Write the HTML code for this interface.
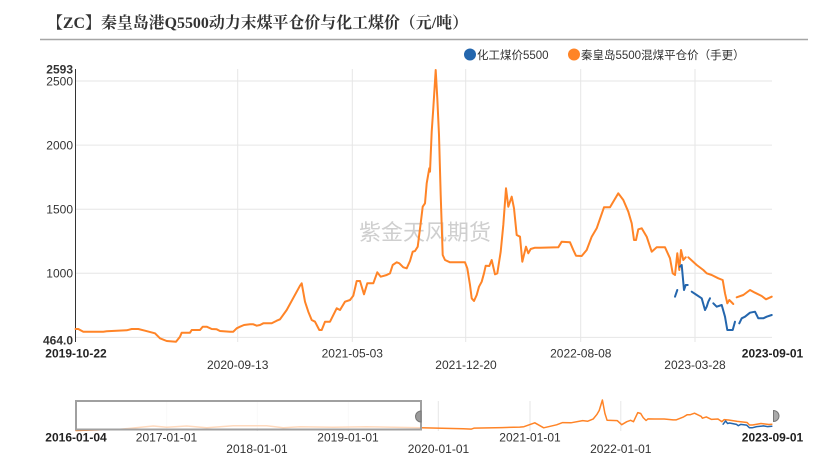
<!DOCTYPE html>
<html>
<head>
<meta charset="utf-8">
<style>
  html,body{margin:0;padding:0;background:#fff;}
  body{width:839px;height:461px;overflow:hidden;}
  svg{display:block;}
  .s{font-family:"Liberation Sans","Noto Sans CJK SC",sans-serif;}
</style>
</head>
<body>
<svg width="839" height="461" viewBox="0 0 839 461" xmlns="http://www.w3.org/2000/svg">
  <rect x="0" y="0" width="839" height="461" fill="#fff"/>

  <!-- Title -->
  <text x="47" y="28" font-family="'Liberation Serif','Noto Serif CJK SC',serif" font-weight="bold" font-size="16" fill="#333" textLength="421" lengthAdjust="spacingAndGlyphs">【ZC】秦皇岛港Q5500动力末煤平仓价与化工煤价（元/吨）</text>
  <line x1="40" y1="39.5" x2="808" y2="39.5" stroke="#a6a6a6" stroke-width="1.5"/>

  <!-- Legend -->
  <circle cx="470" cy="54.5" r="6" fill="#2466ad"/>
  <text class="s" x="477" y="59" font-size="11.5" fill="#333">化工煤价5500</text>
  <circle cx="574" cy="54.5" r="6" fill="#ff8427"/>
  <text class="s" x="581" y="59" font-size="11.5" fill="#333">秦皇岛5500混煤平仓价（手更）</text>

  <!-- Grid horizontal -->
  <g stroke="#e6e6e6" stroke-width="1">
    <line x1="76" y1="337.4" x2="772" y2="337.4"/>
    <line x1="76" y1="273.3" x2="772" y2="273.3"/>
    <line x1="76" y1="209.2" x2="772" y2="209.2"/>
    <line x1="76" y1="145.1" x2="772" y2="145.1"/>
    <line x1="76" y1="81" x2="772" y2="81"/>
    <!-- vertical -->
    <line x1="237.7" y1="69" x2="237.7" y2="342"/>
    <line x1="352.3" y1="69" x2="352.3" y2="342"/>
    <line x1="465.7" y1="69" x2="465.7" y2="342"/>
    <line x1="580.7" y1="69" x2="580.7" y2="342"/>
    <line x1="695" y1="69" x2="695" y2="342"/>
  </g>
  <line x1="75.5" y1="69" x2="75.5" y2="342" stroke="#333" stroke-width="1"/>

  <!-- Watermark -->
  <text class="s" x="425" y="240" font-size="22" fill="#cfcfcf" text-anchor="middle">紫金天风期货</text>

  <!-- Y labels -->
  <g class="s" font-size="12" fill="#333" text-anchor="end">
    <text x="73" y="73.5" font-weight="bold">2593</text>
    <text x="73" y="85.5">2500</text>
    <text x="73" y="149.5">2000</text>
    <text x="73" y="213.5">1500</text>
    <text x="73" y="277.7">1000</text>
    <text x="73" y="344.5" font-weight="bold">464.0</text>
  </g>

  <!-- X labels -->
  <g class="s" font-size="12" fill="#333" text-anchor="middle">
    <text x="76" y="357.5" font-weight="bold" fill="#222">2019-10-22</text>
    <text x="237.7" y="369">2020-09-13</text>
    <text x="352.3" y="357.5">2021-05-03</text>
    <text x="466" y="369">2021-12-20</text>
    <text x="580.8" y="357.5">2022-08-08</text>
    <text x="695" y="369">2023-03-28</text>
    <text x="772.5" y="357.5" font-weight="bold" fill="#222">2023-09-01</text>
  </g>

  <!-- Main orange series -->
  <g fill="none" stroke="#ff8427" stroke-width="2" stroke-linejoin="round" stroke-linecap="round">
    <polyline points="75.5,329 78.3,329 83.3,331.7 103.3,331.7 106.7,331.3 111.7,331 126.7,330.3 131.7,329 138.3,329 145,330.7 155,333.3 160,338.3 166.7,341 176,341.7 180,336.7 181.7,332.7 190,332.7 191.7,330 200,330 202.7,326.7 206.7,326.7 211.7,329 216.7,329.3 220,331 230,331.7 233.3,331.7 236.7,328.3 240,326.7 244,325 250,324.3 253.3,324.3 256.7,325.7 260,325 263.3,323.3 271.7,323.3 276.7,320.7 280,319.3 286.7,310 300,285.7 301.7,283.3 305,301.7 308.3,311.7 311.7,320 315,321.7 319.3,330 321.7,330 325,321.7 330,321.7 336.7,308.3 340,310 345,301.7 350,300 353.3,295.7 356.7,281 360,281 364,294.3 367.3,283.3 373.3,283.3 377.3,272.3 380.7,276.7 386.7,275 390,273.3 392.7,265 396.7,262.3 399.3,263.3 403.3,267.3 406.7,268.3 410,261 412.7,251.7 415,251 417.7,246.7 420.7,223.3 422.7,206.7 425,203.3 426.7,183.3 429.3,168.3 430,171.7 431.7,131.7 433.3,108.3 435.7,70 437.3,98.3 439,135 440.7,195 442.7,255 445,260 450,262.3 465,262.3 467.3,268.3 470,285 471.7,298.3 474,301 476.7,295 479,286.7 481.7,281.7 484,273.3 485.7,265.7 489.3,266 491.7,260 495,274.3 497.3,273.3 500.7,251.7 503.3,225 506,188.3 508.3,206.7 511.7,196.7 514,208.3 516.7,235 520,236.7 522.3,261.7 526,246.7 528.3,253.3 530.7,249 535,247.7 540,247.7 558.3,247.3 561.7,241.7 570,242.3 573.3,250 576,255.7 581.7,256 586.7,250 591.7,236.7 596.7,228.3 604,207.3 610,207.3 618.3,193.3 623.3,200 628.3,211.7 631.7,223.3 634,240 636,240 638.3,229.3 641.7,228.3 646.7,236.7 651.7,251.7 656.7,247.3 665,247.3 670,258.3 672.7,273.3 675,275 677.3,253.3 679.3,270 681,250 683.3,260 685.7,257.3"/>
    <polyline points="688.3,257.3 696.7,265 703.3,270 706.7,273.3 711.7,275 718.3,278.3 722.7,280 725,293.3 727.3,303.3 729.3,300 733.3,304"/>
    <polyline points="736.7,297.3 743.3,295 750,290 755,292.7 761.7,296 766,299.3 771.7,296.7"/>
  </g>

  <!-- Main blue series -->
  <g fill="none" stroke="#2466ad" stroke-width="2" stroke-linejoin="round" stroke-linecap="round">
    <polyline points="675,296.7 677.3,290"/>
    <polyline points="680,266.7 681.7,265 684,290 685.7,285 687.7,285"/>
    <polyline points="691.7,291.7 696.7,295 701.7,298.3 705,310 706.7,306.7 708.3,301.7 710,298.3"/>
    <polyline points="713.3,303.3 716.7,306.7 721.7,305 725,316.7 727.3,330 732.7,330 735,321.7"/>
    <polyline points="739.3,323.3 741.7,318.3 745,316.7 750,312.7 755,311.7 758.3,318.3 763.3,318.3 766.7,316.7 771.7,315"/>
  </g>

  <!-- Navigator grid -->
  <g stroke="#e6e6e6" stroke-width="1">
    <line x1="166.7" y1="401" x2="166.7" y2="431"/>
    <line x1="257.3" y1="401" x2="257.3" y2="431"/>
    <line x1="348.3" y1="401" x2="348.3" y2="431"/>
    <line x1="438.3" y1="401" x2="438.3" y2="431"/>
    <line x1="530" y1="401" x2="530" y2="431"/>
    <line x1="620.8" y1="401" x2="620.8" y2="431"/>
  </g>

  <!-- Navigator series -->
  <g fill="none" stroke-width="1.5" stroke-linejoin="round" stroke-linecap="round">
    <polyline stroke="#ff8427" points="76,430.5 120,429.3 153.3,426 166.7,427.3 186.7,426 206.7,427.7 233.3,425.7 266.7,425.7 283.3,427.7 300,426.7 333.3,427.3 366.7,426.7 420.7,427.7 463.4,428.7 471.4,429.1 474.3,428.1 502,427.6 519.7,427.1 523.9,426.7 534.8,422.8 543.7,427.8 556.6,424.8 562.6,422.6 570.9,422.8 582.7,420.6 587.8,421.2 593.3,418.9 597,414.3 599.2,410.5 602.4,400 604.9,413.4 607.1,420.3 617.2,420.6 621.7,424.7 626.8,421.7 630.6,420.3 633.5,421.7 637.8,412.6 640.7,413.5 643.2,417.6 646.1,420.5 647.9,418.9 655,419 664.2,419 673.1,419.9 676,419.9 683.6,416.9 687.3,414.7 690.3,414.7 694.5,413.2 701.2,416.4 702.4,418.2 706.3,416.9 711.5,419.4 718,419 721.9,421.7 724.2,419.6 728.5,420 737.4,421.4 747.1,422.5 749.5,425 752.5,425 757.5,424.1 760.9,423.5 769,424.5 771.8,424.2"/>
    <polyline stroke="#2466ad" points="723.1,424.2 725.6,421 727.6,423.5 729.5,423 736.5,424.4 738.2,425.7 740.7,424.4 746.6,425.1 749.5,427.8 752.2,427.8 756.7,426.6 763.4,425.9 767.6,426.6 771.8,426.2"/>
  </g>

  <!-- Navigator mask -->
  <rect x="76" y="401" width="345" height="28.5" fill="#fff" fill-opacity="0.7" stroke="#a0a0a0" stroke-width="2"/>
  <!-- handles -->
  <path d="M421,411 A5.5,5.5 0 0 0 421,422 Z" fill="#9a9a9a" stroke="#777" stroke-width="1"/>
  <path d="M773.5,410.5 A5.5,5.5 0 0 1 773.5,421.5 Z" fill="#aaa" stroke="#777" stroke-width="1"/>

  <!-- Navigator labels -->
  <g class="s" font-size="12" fill="#333" text-anchor="middle">
    <text x="76" y="441.5" font-weight="bold" fill="#222">2016-01-04</text>
    <text x="166.5" y="441.5">2017-01-01</text>
    <text x="257" y="453">2018-01-01</text>
    <text x="348" y="441.5">2019-01-01</text>
    <text x="438.5" y="453">2020-01-01</text>
    <text x="530" y="441.5">2021-01-01</text>
    <text x="620.8" y="453">2022-01-01</text>
    <text x="772.5" y="441.5" font-weight="bold" fill="#222">2023-09-01</text>
  </g>
</svg>
</body>
</html>
